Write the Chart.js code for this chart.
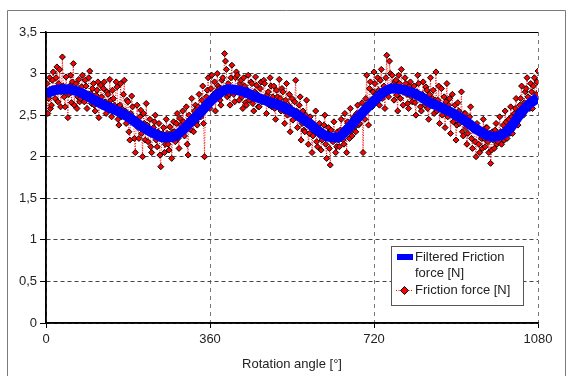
<!DOCTYPE html>
<html>
<head>
<meta charset="utf-8">
<script src="https://cdn.jsdelivr.net/npm/chart.js@4/dist/chart.umd.min.js"></script>
<style>
  html, body { margin: 0; padding: 0; background: #fff; }
  #wrap { width: 566px; height: 376px; }
</style>
</head>
<body>
<div id="wrap"><canvas id="my-chart" width="566" height="376"></canvas></div>
<script>
// rotation angle of each filtered value [deg]
var filteredAngles = [0,20,40,60,80,100,120,140,160,180,200,220,240,260,280,300,320,340,
  360,380,400,420,440,460,480,500,520,540,560,580,600,620,640,660,680,700,
  720,740,760,780,800,820,840,860,880,900,920,940,960,980,1000,1020,1040,1060,1080];
var filteredForce = [2.76,2.80,2.81,2.80,2.76,2.70,2.64,2.59,2.54,2.48,2.40,2.33,2.27,2.23,2.24,2.32,2.43,2.54,
  2.66,2.76,2.81,2.80,2.77,2.72,2.68,2.64,2.60,2.54,2.47,2.39,2.30,2.24,2.23,2.32,2.44,2.56,
  2.67,2.77,2.82,2.81,2.78,2.73,2.66,2.61,2.56,2.50,2.43,2.35,2.28,2.24,2.26,2.35,2.51,2.63,2.71];

// raw friction force, readings at 0, 4, 8 ... 1080 deg
var rawForceA = [
  2.75,2.52,2.95,2.62,3.02,2.70,3.08,2.88,2.60,3.20,
  2.72,2.96,2.47,2.85,2.65,3.12,2.78,2.58,2.93,2.70,
  2.98,2.66,2.85,2.72,3.03,2.64,2.88,2.55,2.80,2.47,
  2.86,2.60,2.90,2.52,2.75,2.93,2.48,2.70,2.58,2.84,
  2.38,2.88,2.57,2.92,2.40,2.66,2.20,2.73,2.47,2.05,
  2.62,2.22,2.56,2.00,2.40,2.64,2.18,2.45,2.05,2.35,
  2.50,2.12,2.40,1.88,2.28,2.05,2.45,2.15,2.36,1.98,
  2.42,2.18,2.52,2.10,2.38,2.55,2.25,2.60,2.02,2.45,
  2.70,2.30,2.62,2.38,2.75,2.48,2.85,2.00,2.72,2.95,
  2.58,2.98,2.75,2.55,3.00,2.82,2.62,2.95,3.24,3.05,
  2.88,2.62,3.10,2.75,2.95,2.98,2.68,2.92,2.58,2.85,
  2.62,2.98,2.72,2.88,2.55,2.96,2.75,2.60,2.90,2.70,
  2.88,2.52,2.78,2.95,2.60,2.85,2.45,2.72,2.93,2.55,
  2.78,2.40,2.88,2.62,2.30,2.70,2.50,2.92,2.35,2.62,
  2.20,2.55,2.30,2.68,2.15,2.48,2.05,2.38,2.55,2.12,
  2.40,2.08,2.30,2.50,1.98,2.35,1.90,2.22,2.42,2.05,
  2.30,2.12,2.45,2.20,2.52,2.05,2.38,2.58,2.25,2.48,
  2.30,2.62,2.40,2.55,2.05,2.45,2.98,2.38,2.90,2.60,
  3.02,2.75,2.95,2.62,3.05,2.80,2.58,3.22,2.72,3.00,
  2.98,2.68,2.92,2.55,2.88,3.05,2.62,2.95,2.75,2.58,
  2.90,2.66,2.85,2.50,2.98,2.72,2.55,2.90,2.62,2.80,
  2.45,2.95,2.70,2.52,3.02,2.68,2.40,2.82,2.58,2.35,
  2.88,2.62,2.28,2.75,2.50,2.20,2.65,2.40,2.78,2.25,
  2.52,2.15,2.40,2.60,2.10,2.38,2.00,2.30,2.05,2.22,
  2.45,2.12,2.35,2.05,1.92,2.30,2.10,2.40,2.18,2.48,
  2.15,2.38,2.55,2.22,2.45,2.60,2.28,2.52,2.70,2.38,
  2.62,2.85,2.50,2.78,2.95,2.65,2.88,2.58,2.95,2.75,
  3.03];

// raw friction force, readings at 2, 6, 10 ... 1078 deg
var rawForceB = [
  2.88,2.70,2.58,2.92,2.80,2.95,2.66,3.05,2.78,2.85,
  2.60,2.82,2.75,2.98,2.90,2.62,2.88,2.72,2.66,2.84,
  2.78,2.92,2.58,2.95,2.76,2.82,2.62,2.74,2.90,2.68,
  2.72,2.82,2.66,2.78,2.56,2.68,2.80,2.62,2.90,2.45,
  2.62,2.48,2.75,2.55,2.68,2.30,2.52,2.60,2.22,2.40,
  2.35,2.48,2.28,2.52,2.20,2.38,2.30,2.12,2.28,2.42,
  2.20,2.30,2.02,2.25,2.35,2.15,2.28,2.08,2.22,2.30,
  2.30,2.40,2.22,2.46,2.28,2.42,2.35,2.15,2.50,2.32,
  2.48,2.55,2.42,2.60,2.52,2.68,2.40,2.58,2.80,2.66,
  2.82,2.70,2.90,2.78,2.85,2.68,2.92,2.80,3.15,2.72,
  2.75,2.95,2.82,2.66,3.02,2.78,2.88,2.72,2.95,2.65,
  2.80,2.68,2.90,2.64,2.78,2.86,2.60,2.82,2.66,2.92,
  2.68,2.75,2.62,2.85,2.72,2.58,2.80,2.64,2.70,2.82,
  2.55,2.68,2.50,2.75,2.58,2.44,2.66,2.55,2.48,2.72,
  2.40,2.32,2.50,2.38,2.28,2.42,2.25,2.30,2.18,2.35,
  2.25,2.20,2.38,2.15,2.28,2.10,2.32,2.18,2.25,2.12,
  2.20,2.32,2.28,2.15,2.35,2.42,2.22,2.30,2.45,2.36,
  2.52,2.38,2.48,2.65,2.55,2.70,2.58,2.82,2.68,2.78,
  2.88,2.65,2.80,2.92,2.70,2.85,2.95,2.78,3.15,2.85,
  2.80,2.90,2.74,2.98,2.70,2.82,2.78,2.88,2.64,2.85,
  2.72,2.80,2.65,2.78,2.88,2.60,2.75,2.70,2.84,2.58,
  2.75,2.62,2.80,2.68,2.55,2.85,2.62,2.50,2.72,2.66,
  2.48,2.70,2.55,2.42,2.62,2.38,2.55,2.45,2.30,2.52,
  2.35,2.28,2.48,2.22,2.32,2.18,2.40,2.15,2.30,2.10,
  2.22,2.35,2.18,2.28,2.08,2.20,2.32,2.15,2.25,2.30,
  2.30,2.20,2.42,2.35,2.28,2.48,2.40,2.58,2.45,2.55,
  2.70,2.55,2.65,2.82,2.72,2.58,2.78,2.85,2.68,2.90];

var xTicks = [0, 360, 720, 1080];
var yTicks = [0, 0.5, 1, 1.5, 2, 2.5, 3, 3.5];

var filteredPts = filteredAngles.map(function (a, i) { return { x: a, y: filteredForce[i] }; });
var rawPts = [];
rawForceA.forEach(function (v, i) {
  rawPts.push({ x: i * 4, y: v });
  if (i < rawForceB.length) rawPts.push({ x: i * 4 + 2, y: rawForceB[i] });
});

var FONT = 'Liberation Sans, Arial, sans-serif';

// frame, solid plot border and the boxed legend
var extras = {
  id: 'extras',
  afterDraw: function (chart) {
    var c = chart.ctx, a = chart.chartArea;
    c.save();
    c.strokeStyle = '#7a7a7a';
    c.lineWidth = 1;
    c.beginPath();
    c.moveTo(7.5, 380); c.lineTo(7.5, 10.5); c.lineTo(565.5, 10.5); c.lineTo(565.5, 380);
    c.stroke();

    c.strokeStyle = '#000';
    c.beginPath();
    c.moveTo(a.left, a.top + 0.5); c.lineTo(a.right, a.top + 0.5);
    c.stroke();
    c.lineWidth = 1.5;
    c.beginPath();
    c.moveTo(a.left, a.top); c.lineTo(a.left, a.bottom); c.lineTo(a.right, a.bottom);
    c.stroke();
    c.lineWidth = 1;

    // legend
    var lx = 391.5, ly = 246.5, lw = 132, lh = 59;
    c.fillStyle = '#fff';
    c.fillRect(lx, ly, lw, lh);
    c.strokeStyle = '#555';
    c.strokeRect(lx, ly, lw, lh);

    c.fillStyle = '#0000ff';
    c.fillRect(397, 254, 16, 6);

    c.strokeStyle = '#ff0000';
    c.setLineDash([1, 1.5]);
    c.beginPath(); c.moveTo(396, 290.5); c.lineTo(413, 290.5); c.stroke();
    c.setLineDash([]);
    c.beginPath();
    c.moveTo(404.5, 286.5); c.lineTo(408.5, 290.5); c.lineTo(404.5, 294.5); c.lineTo(400.5, 290.5); c.closePath();
    c.fillStyle = '#ff0000'; c.fill();
    c.strokeStyle = '#000'; c.stroke();

    c.fillStyle = '#222';
    c.font = '13px ' + FONT;
    c.textBaseline = 'middle';
    c.textAlign = 'left';
    c.fillText('Filtered Friction', 415, 257);
    c.fillText('force [N]', 415, 273.5);
    c.fillText('Friction force [N]', 415, 290);
    c.restore();
  }
};

var ctx = document.getElementById('my-chart').getContext('2d');
var myChart = new Chart(ctx, {
  type: 'line',
  data: {
    datasets: [{
      label: 'Filtered Friction force [N]',
      data: filteredPts,
      borderColor: '#0000ff',
      borderWidth: 10,
      pointRadius: 0,
      cubicInterpolationMode: 'monotone',
      fill: false
    }, {
      label: 'Friction force [N]',
      data: rawPts,
      borderColor: '#ff0000',
      borderWidth: 1,
      borderDash: [1, 1.5],
      pointStyle: 'rectRot',
      pointRadius: 3,
      pointBackgroundColor: '#ff0000',
      pointBorderColor: '#000',
      pointBorderWidth: 1,
      tension: 0,
      fill: false
    }]
  },
  options: {
    responsive: false,
    animation: false,
    devicePixelRatio: 1,
    layout: { padding: { left: 0, top: 32, right: 28, bottom: 0 } },
    plugins: {
      legend: { display: false },
      tooltip: { enabled: false }
    },
    scales: {
      x: {
        type: 'linear',
        min: 0,
        max: 1080,
        afterBuildTicks: function (s) { s.ticks = xTicks.map(function (v) { return { value: v }; }); },
        afterFit: function (s) { s.height = 53; },
        ticks: {
          color: '#222', font: { family: FONT, size: 13 }, padding: 4, maxRotation: 0,
          callback: function (v) { return String(v); }
        },
        grid: { color: '#777', tickLength: 5, tickColor: '#000' },
        border: { display: true, color: '#000', width: 1.5, dash: [4, 4] },
        title: { display: true, text: 'Rotation angle [°]', color: '#222', font: { family: FONT, size: 13 }, padding: { top: 2 } }
      },
      y: {
        type: 'linear',
        min: 0,
        max: 3.5,
        afterBuildTicks: function (s) { s.ticks = yTicks.map(function (v) { return { value: v }; }); },
        afterFit: function (s) { s.width = 46; },
        ticks: {
          color: '#222', font: { family: FONT, size: 13 }, padding: 3,
          callback: function (v) { return String(v).replace('.', ','); }
        },
        grid: { color: '#444', tickLength: 6, tickColor: '#000' },
        border: { display: true, color: '#000', width: 1.5, dash: [4, 3] }
      }
    }
  },
  plugins: [extras]
});
</script>
</body>
</html>
